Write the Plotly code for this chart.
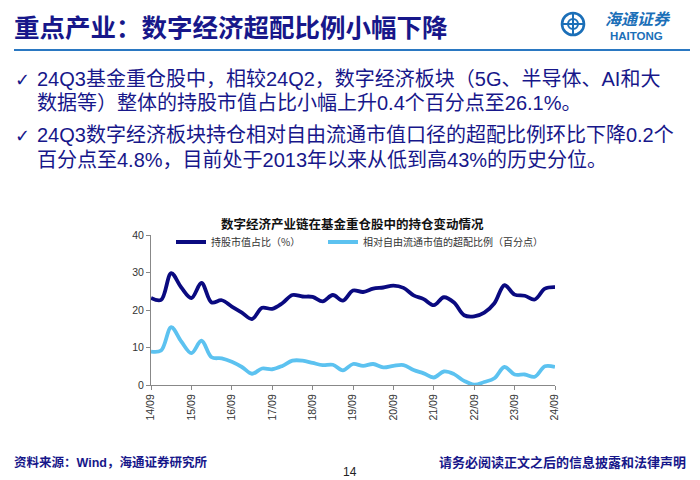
import plotly.graph_objects as go

# ---------------- data ----------------
quarters = [f"{y:02d}/{m:02d}" for y in range(14, 25) for m in (3, 6, 9, 12)]
quarters = quarters[quarters.index("14/09"):quarters.index("24/09") + 1]

holding_share = [23.2, 22.7, 29.8, 26.0, 23.2, 27.2, 22.0, 22.6, 20.9, 19.3,
                 17.6, 20.6, 20.3, 21.8, 24.0, 23.6, 23.5, 22.3, 24.0, 22.5,
                 25.2, 24.8, 25.7, 26.0, 26.5, 25.9, 23.9, 22.9, 21.3, 23.4,
                 22.0, 18.6, 18.3, 19.3, 21.8, 26.6, 24.1, 23.8, 22.8, 25.7, 26.1]

overweight = [8.9, 9.2, 15.4, 11.6, 8.5, 11.8, 7.4, 7.1, 6.2, 4.8,
              3.0, 4.4, 4.2, 5.1, 6.5, 6.5, 5.9, 5.3, 5.4, 3.9,
              5.6, 5.1, 5.6, 4.7, 5.1, 5.3, 4.0, 3.1, 2.0, 3.6,
              2.9, 1.1, 0.1, 0.8, 1.8, 4.8, 2.8, 2.8, 2.2, 5.0, 4.8]

tick_labels = ["14/09", "15/09", "16/09", "17/09", "18/09", "19/09",
               "20/09", "21/09", "22/09", "23/09", "24/09"]

series_names = ["持股市值占比（%）", "相对自由流通市值的超配比例（百分点）"]

page_title = "重点产业：数字经济超配比例小幅下降"
bullets = [
    ["24Q3基金重仓股中，相较24Q2，数字经济板块（5G、半导体、AI和大",
     "数据等）整体的持股市值占比小幅上升0.4个百分点至26.1%。"],
    ["24Q3数字经济板块持仓相对自由流通市值口径的超配比例环比下降0.2个",
     "百分点至4.8%，目前处于2013年以来从低到高43%的历史分位。"],
]
chart_title = "数字经济产业链在基金重仓股中的持仓变动情况"
source_text = "资料来源：Wind，海通证券研究所"
disclaimer = "请务必阅读正文之后的信息披露和法律声明"
page_no = "14"

# ---------------- layout helpers ----------------
W, H = 700, 480
L, R, T, B = 151, 145, 235, 95
PW, PH = W - L - R, H - T - B


def px(x):
    return (x - L) / PW


def py(y):
    return (H - B - y) / PH


NAVY = "#17178a"
CJK = "Liberation Sans, Noto Sans CJK SC, sans-serif"


def note(text, x, y, size, color, family=CJK, xanchor="left"):
    return dict(text=text, x=px(x), y=py(y), xref="paper", yref="paper",
                xanchor=xanchor, yanchor="middle", showarrow=False,
                font=dict(family=family, size=size, color=color))


fig = go.Figure()
fig.add_trace(go.Scatter(x=quarters, y=holding_share, name=series_names[0],
                         mode="lines", legend="legend",
                         line=dict(color="#0a0a80", width=3.8, shape="spline")))
fig.add_trace(go.Scatter(x=quarters, y=overweight, name=series_names[1],
                         mode="lines", legend="legend2",
                         line=dict(color="#5cc2f0", width=3.8, shape="spline")))

ann = [note(f"<b>{page_title}</b>", 12, 25, 25.5, NAVY, "Noto Sans CJK SC")]
line_y = [79, 103, 135, 160]
i = 0
for b in bullets:
    for j, t in enumerate(b):
        if j == 0:
            ann.append(note("<b>✓</b>", 13, line_y[i], 18, NAVY, "DejaVu Sans"))
        ann.append(note(t, 35, line_y[i], 20, NAVY))
        i += 1
ann.append(note(f"<b>{chart_title}</b>", 352, 223, 12.5, "#111111",
                "Noto Sans CJK SC", "center"))
ann.append(note(f"<b>{source_text}</b>", 12, 462, 12.5, NAVY))
ann.append(note(f"<b>{disclaimer}</b>", 688, 462, 13, NAVY, CJK, "right"))
ann.append(note(page_no, 350, 472, 12, "#222222", "Liberation Sans", "center"))
ann.append(note("<i><b>海通证券</b></i>", 638, 18, 16, "#1b6fb8",
                "Noto Sans CJK SC", "center"))
ann.append(note("<b>HAITONG</b>", 636, 36, 11.5, "#1b6fb8",
                "Liberation Sans", "center"))


def pline(x0, y0, x1, y1, color, width):
    return dict(type="line", xref="paper", yref="paper", x0=px(x0), x1=px(x1),
                y0=py(y0), y1=py(y1), line=dict(color=color, width=width))


def pcircle(cx, cy, r, color, width):
    return dict(type="circle", xref="paper", yref="paper", x0=px(cx - r),
                x1=px(cx + r), y0=py(cy + r), y1=py(cy - r),
                line=dict(color=color, width=width))


LOGO = "#1b6fb8"
shapes = [
    pline(14, 50, 690, 50, "#2a78c2", 2.2),
    pcircle(573, 24, 11, LOGO, 2.6),
    pcircle(573, 24, 5, LOGO, 2),
    pline(573, 14, 573, 34, LOGO, 2),
    pline(563, 24, 583, 24, LOGO, 2),
]

legend_common = dict(orientation="h", xanchor="left", yanchor="middle",
                     bgcolor="rgba(0,0,0,0)", itemwidth=30,
                     font=dict(family="Noto Sans CJK SC", size=10, color="#333333"))

fig.update_layout(
    width=W, height=H,
    margin=dict(l=L, r=R, t=T, b=B, autoexpand=False),
    paper_bgcolor="white", plot_bgcolor="white",
    annotations=ann, shapes=shapes,
    showlegend=True,
    legend=dict(x=px(171), y=py(242), **legend_common),
    legend2=dict(x=px(323), y=py(242), **legend_common),
    xaxis=dict(type="category", categoryorder="array", categoryarray=quarters,
               range=[0, len(quarters) - 1], tickmode="array",
               tickvals=tick_labels, ticktext=tick_labels, tickangle=-90,
               ticks="outside", ticklen=4, tickcolor="#888888",
               showline=True, linecolor="#888888", linewidth=1,
               showgrid=False, zeroline=False,
               tickfont=dict(family="Liberation Sans", size=10.5, color="#333333")),
    yaxis=dict(range=[0, 40], dtick=10, ticks="outside", ticklen=4,
               tickcolor="#888888", showline=True, linecolor="#888888",
               linewidth=1, showgrid=False, zeroline=False,
               tickfont=dict(family="Liberation Sans", size=10.5, color="#333333")),
)

fig.write_html("out.html", config={"displayModeBar": False},
               post_script="document.body.style.margin='0';"
                           "document.body.style.overflow='hidden';")
